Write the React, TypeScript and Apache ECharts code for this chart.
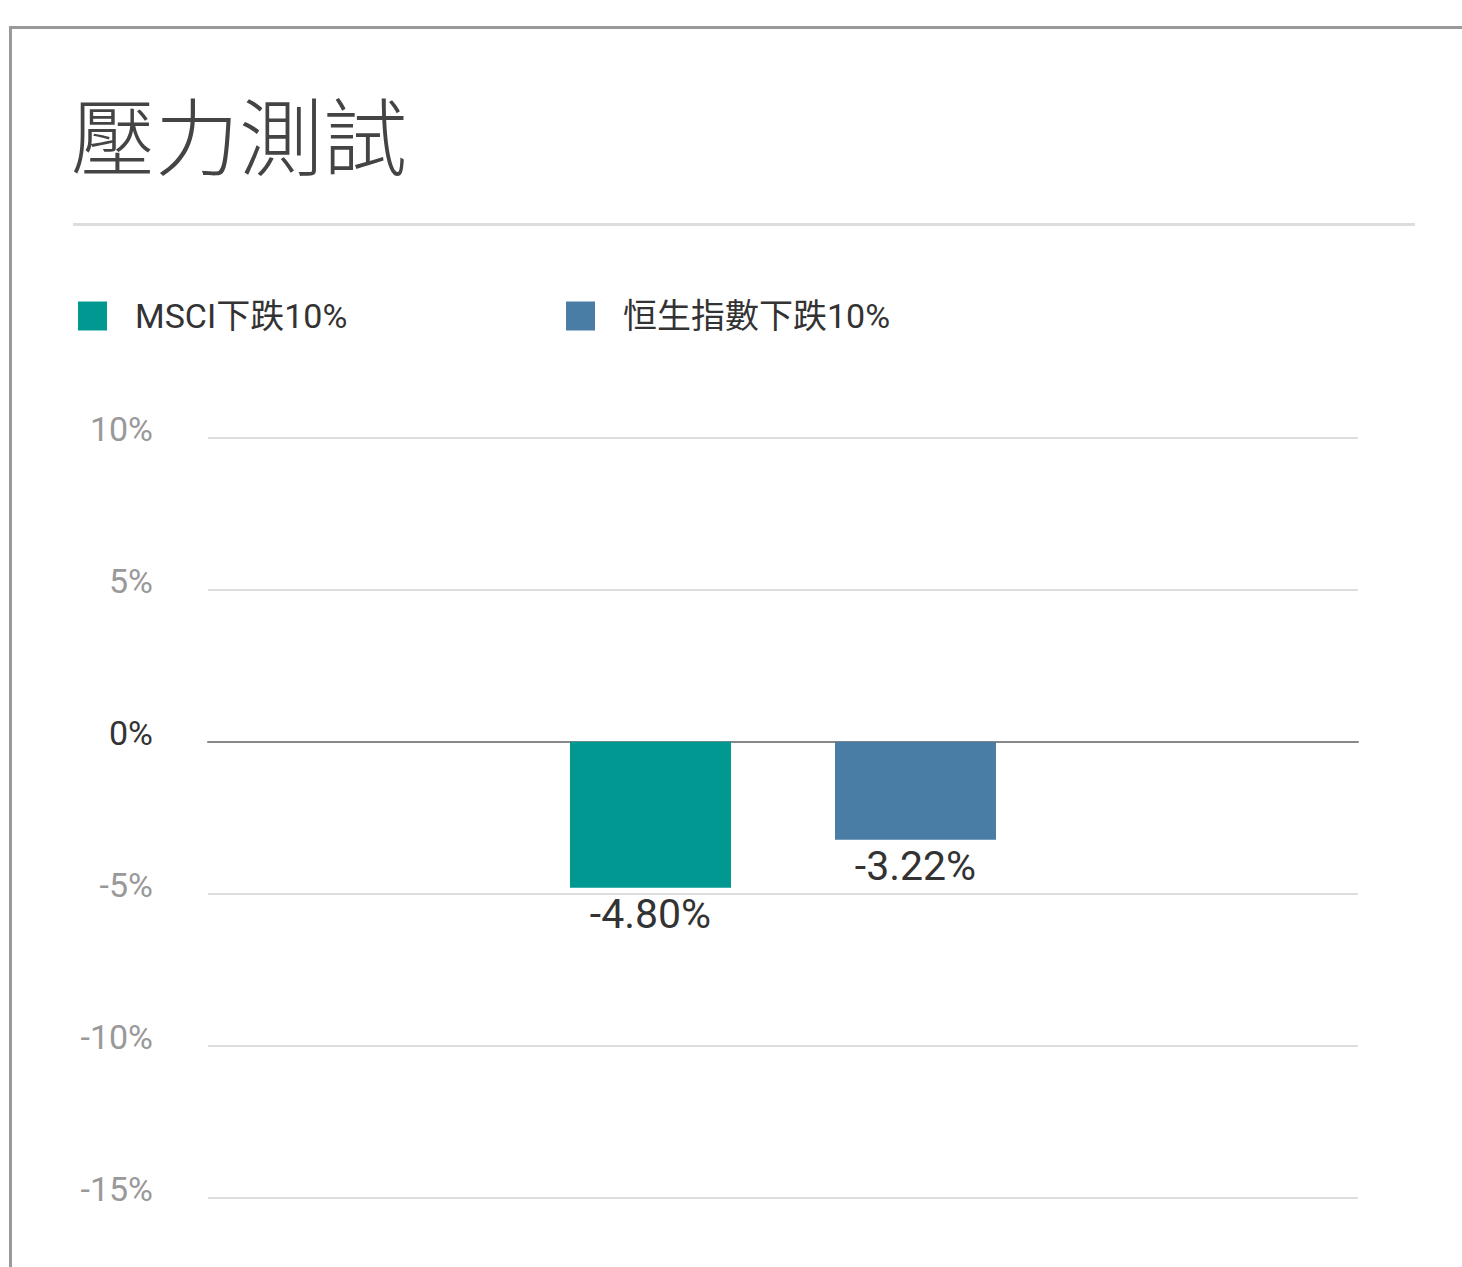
import React, { useEffect, useRef } from "react";
import * as echarts from "echarts";

const titleText = "壓力測試";
const categories = [""];
const seriesNames = ["MSCI下跌10%", "恒生指數下跌10%"];
const msciValues = [-4.8];
const hsiValues = [-3.22];
const seriesColors = ["#009891", "#4a7da6"];
const yMin = -15;
const yMax = 10;
const yInterval = 5;

const FONT = "Roboto, 'Noto Sans CJK TC', sans-serif";

export default function App() {
  const ref = useRef<HTMLDivElement>(null);
  useEffect(() => {
    if (!ref.current) return;
    const chart = echarts.init(ref.current, null, { renderer: "svg" });
    const labelOpt = {
      show: true,
      position: "bottom",
      distance: 6,
      fontSize: 41,
      color: "#333",
      fontFamily: FONT,
      formatter: (p: any) => Number(p.value).toFixed(2) + "%",
    };
    const legendText = {
      fontSize: 34,
      color: "#333",
      fontFamily: FONT,
      padding: [0, 0, 0, 23],
    };
    chart.setOption({
      animation: false,
      backgroundColor: "#fff",
      textStyle: { fontFamily: FONT },
      title: {
        text: titleText,
        left: 66,
        top: 85,
        textStyle: {
          fontSize: 84,
          fontWeight: 300,
          color: "#444",
          fontFamily: "'Noto Sans CJK TC', sans-serif",
        },
      },
      legend: [
        {
          data: [seriesNames[0]],
          left: 73,
          top: 294,
          icon: "rect",
          itemWidth: 29,
          itemHeight: 29,
          textStyle: legendText,
        },
        {
          data: [seriesNames[1]],
          left: 561,
          top: 294,
          icon: "rect",
          itemWidth: 29,
          itemHeight: 29,
          textStyle: legendText,
        },
      ],
      grid: { left: 208, right: 104, top: 437.5, bottom: 69, containLabel: false },
      xAxis: {
        type: "category",
        data: categories,
        axisTick: { show: false },
        axisLabel: { show: false },
        axisLine: { show: true, onZero: true, lineStyle: { color: "#888", width: 2 } },
      },
      yAxis: {
        type: "value",
        min: yMin,
        max: yMax,
        interval: yInterval,
        axisLine: { show: false },
        axisTick: { show: false },
        splitLine: { show: true, lineStyle: { color: "#ddd", width: 2 } },
        axisLabel: {
          margin: 55,
          fontSize: 34,
          fontWeight: 400,
          fontFamily: FONT,
          verticalAlign: "bottom",
          lineHeight: 18,
          formatter: (v: number) => v + "%",
          color: (v: any) => (Number(v) === 0 ? "#333" : "#999"),
        },
      },
      series: [
        {
          name: seriesNames[0],
          type: "bar",
          data: msciValues,
          barWidth: 161,
          barGap: "64.6%",
          itemStyle: { color: seriesColors[0] },
          label: labelOpt,
        },
        {
          name: seriesNames[1],
          type: "bar",
          data: hsiValues,
          barWidth: 161,
          itemStyle: { color: seriesColors[1] },
          label: labelOpt,
        },
      ],
      graphic: [
        {
          type: "line",
          shape: { x1: 9, y1: 27.5, x2: 1462, y2: 27.5 },
          style: { stroke: "#999", lineWidth: 3 },
        },
        {
          type: "line",
          shape: { x1: 10.5, y1: 27, x2: 10.5, y2: 1267 },
          style: { stroke: "#999", lineWidth: 3 },
        },
        {
          type: "line",
          shape: { x1: 73, y1: 224.5, x2: 1415, y2: 224.5 },
          style: { stroke: "#ddd", lineWidth: 3 },
        },
      ],
    });
    return () => chart.dispose();
  }, []);
  return (
    <div
      ref={ref}
      style={{ position: "absolute", left: 0, top: 0, width: 1462, height: 1267 }}
    />
  );
}
